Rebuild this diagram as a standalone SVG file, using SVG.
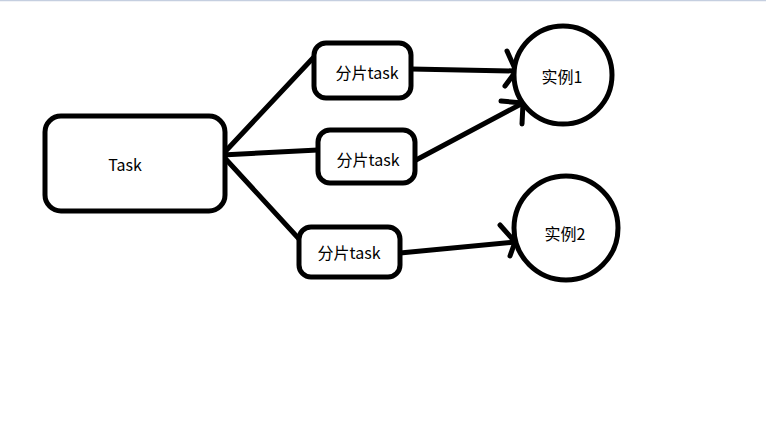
<svg xmlns="http://www.w3.org/2000/svg" width="766" height="435" viewBox="0 0 766 435">
<style>
.n{fill:#fff;stroke:#000;stroke-width:5}
.t{font-family:"Noto Sans CJK SC","Liberation Sans",sans-serif;font-size:16px;fill:#000;text-anchor:middle;dominant-baseline:central}
.c path{fill:none;stroke:#000;stroke-width:5;stroke-linecap:round;stroke-linejoin:round}
</style>
<rect width="766" height="435" fill="#fff"/>
<line x1="0" y1="0.5" x2="766" y2="0.5" stroke="#c5cfe0" stroke-width="1.5"/>
<g class="c" id="connectors">
<path d="M222,155 L313,58"/>
<path d="M222,155 L318,150"/>
<path d="M222,155 L300,240"/>
<path d="M411,69 L516,71"/>
<path d="M507,51 L516,71 L505,86"/>
<path d="M416,160 L523,103"/>
<path d="M501,101 L523,103 L522,124"/>
<path d="M400,253 L515,242"/>
<path d="M500,225 L515,242 L510,256"/>
</g>
<g id="task"><rect class="n" x="45" y="116" width="180" height="95" rx="16"/><text class="t" x="125" y="164">Task</text></g>
<g id="shard1"><rect class="n" x="314" y="43" width="97" height="55" rx="12"/><text class="t" x="367" y="72">分片task</text></g>
<g id="shard2"><rect class="n" x="318" y="130" width="97" height="53" rx="12"/><text class="t" x="368" y="159">分片task</text></g>
<g id="shard3"><rect class="n" x="299" y="227" width="101" height="50" rx="12"/><text class="t" x="349" y="252">分片task</text></g>
<g id="inst1"><circle class="n" cx="563" cy="75" r="49"/><text class="t" x="562" y="76">实例1</text></g>
<g id="inst2"><circle class="n" cx="566" cy="228" r="52"/><text class="t" x="565" y="233">实例2</text></g>
</svg>
